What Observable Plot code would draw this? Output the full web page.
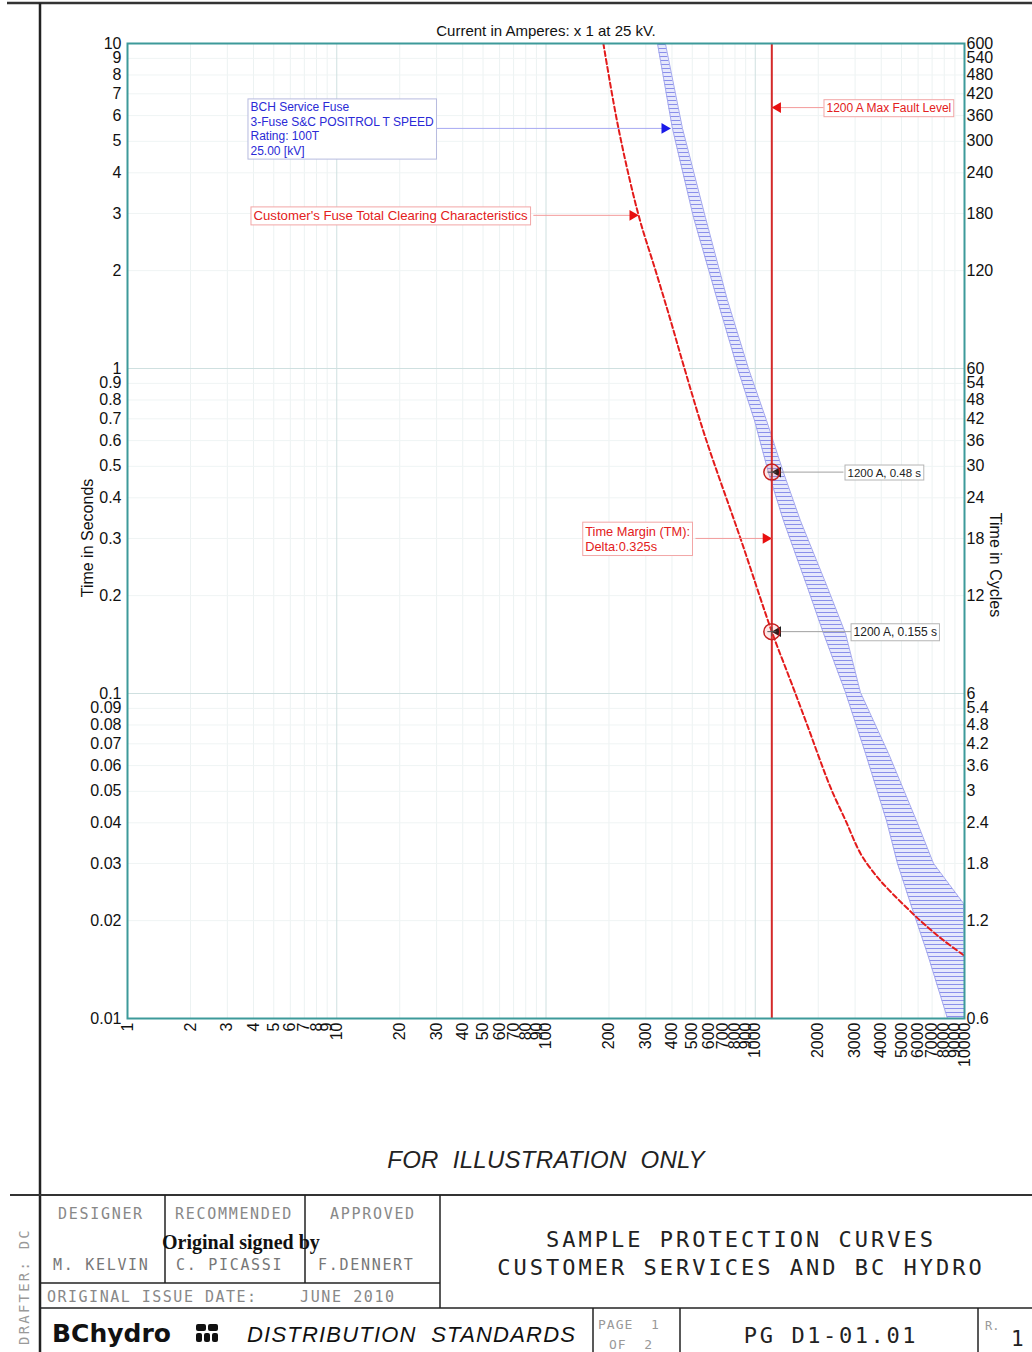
<!DOCTYPE html>
<html><head><meta charset="utf-8">
<script src="https://cdn.jsdelivr.net/npm/d3@7"></script>
<script src="https://cdn.jsdelivr.net/npm/@observablehq/plot@0.6"></script>
<style>
html,body{margin:0;padding:0;background:#fff;}
#page{position:relative;width:1032px;height:1352px;overflow:hidden;background:#fff;}
#chart{position:absolute;left:0;top:0;}
#overlay{position:absolute;left:0;top:0;}
</style></head><body>
<div id="page"><div id="chart"></div><svg id="overlay" width="1032" height="1352"></svg></div>
<script>
// ---------- data ----------
const xTicks = [1,2,3,4,5,6,7,8,9,10,20,30,40,50,60,70,80,90,100,200,300,400,500,600,700,800,900,1000,2000,3000,4000,5000,6000,7000,8000,9000,10000];
const yTicks = [10,9,8,7,6,5,4,3,2,1,0.9,0.8,0.7,0.6,0.5,0.4,0.3,0.2,0.1,0.09,0.08,0.07,0.06,0.05,0.04,0.03,0.02,0.01];
const cyclesPerSecond = 60;

// Customer's fuse total clearing curve (A, s)
const customerCurrent = [188,222,277,334,394,459,578,850,1200,1474,1739,2289,2700,3184,3715,4240,5461,6371,7935,10000];
const customerTime    = [10,5.48,2.96,2.00,1.405,1,0.613,0.30,0.155,0.1096,0.0826,0.0514,0.0407,0.0322,0.0279,0.0253,0.0215,0.0196,0.0174,0.0156];

// BCH service fuse band (A at given time, s)
const bchTime       = [10,5.48,2.915,1.619,1,0.692,0.478,0.34,0.212,0.153,0.1007,0.0654,0.0406,0.030,0.0226,0.0158,0.01];
const bchMinMelt    = [341,402,507,660,823,992,1157,1365,1777,2120,2700,3365,4240,4784,5521,6657,8296];
const bchTotalClear = [372,449,578,737,928,1132,1365,1645,2214,2700,3184,4334,5896,7110,9890,10000,10000];

const faultCurrent = 1200;
const calloutCurrent = [1200,1200];
const calloutTime = [0.48,0.155];

// annotations
const noteText = [
  "BCH Service Fuse\n3-Fuse S&C POSITROL T SPEED\nRating: 100T\n25.00 [kV]",
  "Customer's Fuse Total Clearing Characteristics",
  "1200 A Max Fault Level",
  "1200 A, 0.48 s",
  "Time Margin (TM):\nDelta:0.325s",
  "1200 A, 0.155 s"
];
const noteCurrent = [3.87,4.0,2190,2760,154,2950];
const noteTime    = [5.48,2.96,6.35,0.48,0.30,0.155];
const noteSize    = [12,13.2,12,11.5,12.8,12];
const arrowFrom   = [29.6,87,2120,2640,518,2884];
const arrowTo     = [394,277,1200,1200,1200,1200];
const noteColor   = ["#2a2ad6","#e32020","#e32020","#222","#e32020","#222"];
const noteBorder  = ["#b7bbdf","#f2a6a6","#f2a6a6","#b5b5b5","#f2a6a6","#b5b5b5"];
const lineColor   = ["#a6a8f2","#f39a9a","#f39a9a","#a0a0a0","#f39a9a","#a0a0a0"];
const headColor   = ["#1a1ae8","#e81010","#e81010","#111","#e81010","#111"];

// ---------- build ----------
const fmt = d3.format("~g");
const isPow10 = d => /^(0\.0*)?10*$/.test(String(d));
const xMajor = xTicks.filter(isPow10), xMinor = xTicks.filter(d => !isPow10(d));
const yMajor = yTicks.filter(isPow10), yMinor = yTicks.filter(d => !isPow10(d));

const customer = customerCurrent.map((c,i)=>({current:c, time:customerTime[i]}));
const band = bchTime.map((t,i)=>({time:t, lo:bchMinMelt[i], hi:bchTotalClear[i]}));
const notes = noteText.map((s,i)=>({text:s, current:noteCurrent[i], time:noteTime[i], color:noteColor[i], size:noteSize[i]}));
const arrows = noteText.map((s,i)=>({from:arrowFrom[i], to:arrowTo[i], time:noteTime[i], line:lineColor[i], head:headColor[i]}));
const callouts = calloutCurrent.map((c,i)=>({current:c, time:calloutTime[i]}));

const plot = Plot.plot({
  width: 1032, height: 1100,
  marginTop: 43, marginRight: 68, marginBottom: 82, marginLeft: 127,
  x: {type:"log", domain:[1,10000], axis:null},
  y: {type:"log", domain:[0.01,10], axis:null},
  color: {type:"identity"},
  style: {fontFamily:"'Liberation Sans', Arial, sans-serif", fontSize:"16px", color:"#111", background:"none"},
  marks: [
    Plot.gridX(xMinor, {stroke:"#ecf2f2", strokeOpacity:1}),
    Plot.gridY(yMinor, {stroke:"#eff4f4", strokeOpacity:1}),
    Plot.gridX(xMajor, {stroke:"#cfe0e0", strokeOpacity:1}),
    Plot.gridY(yMajor, {stroke:"#cfe0e0", strokeOpacity:1}),
    Plot.areaX(band, {y:"time", x1:"lo", x2:"hi", fill:"url(#hatch)", clip:true}),
    Plot.line(band, {x:"lo", y:"time", stroke:"#a4a8ee", strokeWidth:1, clip:true}),
    Plot.line(band, {x:"hi", y:"time", stroke:"#a4a8ee", strokeWidth:1, clip:true}),
    Plot.ruleX([faultCurrent], {stroke:"#d42a2a", strokeWidth:2}),
    Plot.line(customer, {x:"current", y:"time", stroke:"#e31b1b", strokeWidth:2, strokeDasharray:"5,3", curve:"catmull-rom", clip:true}),
    Plot.link(arrows, {x1:"from", x2:"to", y1:"time", y2:"time", stroke:"line", strokeWidth:1}),
    Plot.dot(arrows.filter(a=>a.to>a.from), {x:"to", y:"time", symbol:"triangle", r:4, rotate:90, fill:"head", stroke:null, dx:-6}),
    Plot.dot(arrows.filter(a=>a.to<a.from), {x:"to", y:"time", symbol:"triangle", r:4, rotate:-90, fill:"head", stroke:null, dx:6}),
    Plot.dot(callouts, {x:"current", y:"time", r:8, stroke:"#c42020", fill:"#ff6060", fillOpacity:0.15, strokeWidth:1.5}),
    Plot.dot(callouts, {x:"current", y:"time", symbol:"plus", r:3, stroke:"#555", strokeWidth:1}),
    Plot.text(notes, {x:"current", y:"time", text:"text", fill:"color", fontSize:"size", textAnchor:"start", lineAnchor:"middle", lineHeight:1.2}),
    Plot.frame({stroke:"#3d9a9a", strokeWidth:2}),
    // tick labels
    Plot.text(yTicks, {y:d=>d, frameAnchor:"left", text:fmt, textAnchor:"end", lineAnchor:"middle", dx:-6, fontSize:16}),
    Plot.text(yTicks, {y:d=>d, frameAnchor:"right", text:d=>fmt(d*cyclesPerSecond), textAnchor:"start", lineAnchor:"middle", dx:2, fontSize:16}),
    Plot.text(xTicks, {x:d=>d, frameAnchor:"bottom", text:d=>String(d), rotate:-90, textAnchor:"end", lineAnchor:"middle", dy:4, fontSize:16}),
    // axis titles
    Plot.text(["Current in Amperes: x 1 at 25 kV."], {frameAnchor:"top", textAnchor:"middle", lineAnchor:"middle", dy:-12, fontSize:15}),
    Plot.text(["Time in Seconds"], {frameAnchor:"left", textAnchor:"middle", lineAnchor:"middle", rotate:-90, dx:-40, dy:7, fontSize:16}),
    Plot.text(["Time in Cycles"], {frameAnchor:"right", textAnchor:"middle", lineAnchor:"middle", rotate:90, dx:31, dy:34, fontSize:16})
  ]
});

const svgNS = "http://www.w3.org/2000/svg";
const defs = document.createElementNS(svgNS, "defs");
defs.innerHTML = '<pattern id="hatch" patternUnits="userSpaceOnUse" width="8" height="4"><rect width="8" height="4" fill="#e6e8fc"/><line x1="0" y1="0.5" x2="8" y2="0.5" stroke="#8a8fea" stroke-width="1"/></pattern>';
plot.insertBefore(defs, plot.firstChild);
document.getElementById("chart").appendChild(plot);

// boxes behind annotation texts
const flat = noteText.map(s => s.replace(/\n/g, ""));
plot.querySelectorAll("text").forEach(t => {
  const i = flat.indexOf(t.textContent);
  if (i < 0) return;
  const b = t.getBBox();
  const r = document.createElementNS(svgNS, "rect");
  r.setAttribute("x", b.x-2.5); r.setAttribute("y", b.y-1.5);
  r.setAttribute("width", b.width+5); r.setAttribute("height", b.height+3);
  r.setAttribute("fill", "#fff"); r.setAttribute("stroke", noteBorder[i]); r.setAttribute("stroke-width", 1);
  if (t.getAttribute("transform")) r.setAttribute("transform", t.getAttribute("transform"));
  t.parentNode.insertBefore(r, t);
});

// ---------- page frame & title block ----------
const ov = d3.select("#overlay");
const mono = "'DejaVu Sans Mono', 'Liberation Mono', monospace";
const sans = "'Liberation Sans', Arial, sans-serif";
function L(x1,y1,x2,y2,w=1.5,c="#222"){ ov.append("line").attr("x1",x1).attr("y1",y1).attr("x2",x2).attr("y2",y2).attr("stroke",c).attr("stroke-width",w); }
function T(s,x,y,o={}){
  return ov.append("text").attr("x",x).attr("y",y).text(s)
    .attr("font-family",o.ff||mono).attr("font-size",o.fs||15).attr("fill",o.c||"#888")
    .attr("letter-spacing",o.ls==null?1.7:o.ls).attr("text-anchor",o.a||"start")
    .attr("font-weight",o.fw||"normal").attr("font-style",o.it?"italic":"normal")
    .style("white-space","pre");
}
L(7,3,1032,3,2.5,"#333");
L(40,3,40,1352,2.5,"#222");
L(10,1195,1032,1195,2,"#333");
L(165,1195,165,1283); L(305,1195,305,1283); L(440,1195,440,1308);
L(40,1283,440,1283); L(40,1308,1032,1308);
L(593,1308,593,1352); L(680,1308,680,1352); L(978,1308,978,1352);

T("FOR  ILLUSTRATION  ONLY",546,1168,{ff:sans,fs:24,c:"#222",ls:0.3,a:"middle",it:true});

T("DESIGNER",58,1219);
T("RECOMMENDED",175,1219);
T("APPROVED",330,1219);
T("M. KELVIN",53,1270,{c:"#777"});
T("C. PICASSI",176,1270,{c:"#777"});
T("F.DENNERT",318,1270,{c:"#777"});
T("Original signed by",162,1249,{ff:"'Liberation Serif', 'DejaVu Serif', serif",fs:20,c:"#111",ls:0,fw:"bold"});
T("ORIGINAL ISSUE DATE:",47,1302,{c:"#888",ls:1.5});
T("JUNE 2010",300,1302,{c:"#888",ls:1.6});
T("SAMPLE PROTECTION CURVES",741,1247,{fs:22,c:"#222",ls:3,a:"middle"});
T("CUSTOMER SERVICES AND BC HYDRO",741,1275,{fs:22,c:"#222",ls:3,a:"middle"});
T("BChydro",52,1342,{ff:"'DejaVu Sans', sans-serif",fs:25,c:"#111",ls:0,fw:"bold"});
[[196,1324,10,7],[208,1324,10,7],[196,1333,6,9],[204,1333,6,9],[212,1333,6,9]].forEach(r=>{
  ov.append("rect").attr("x",r[0]).attr("y",r[1]).attr("width",r[2]).attr("height",r[3]).attr("rx",2).attr("fill","#111");
});
T("DISTRIBUTION  STANDARDS",247,1342,{ff:sans,fs:22,c:"#111",ls:1.2,it:true});
T("PAGE  1",598,1329,{fs:13,c:"#999",ls:1});
T("OF  2",609,1349,{fs:13,c:"#999",ls:1});
T("PG D1-01.01",831,1343,{fs:22,c:"#222",ls:2.6,a:"middle"});
T("R.",985,1330,{fs:12,c:"#999",ls:0});
T("1",1011,1346,{fs:21,c:"#222",ls:0});
T("DRAFTER: DC",0,0,{fs:14,c:"#999",ls:2.2}).attr("transform","translate(29,1345) rotate(-90)");
</script>
</body></html>
